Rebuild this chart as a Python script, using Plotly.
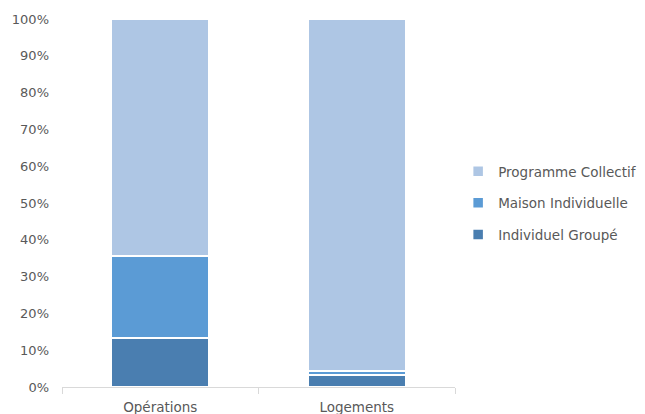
import plotly.graph_objects as go

categories = ["Opérations", "Logements"]
individuel_groupe = [13.3, 3.3]
maison_individuelle = [22.3, 1.0]
programme_collectif = [64.4, 95.7]

series = [
    ("Individuel Groupé", individuel_groupe, "#4A7EB0", 3),
    ("Maison Individuelle", maison_individuelle, "#5B9BD5", 2),
    ("Programme Collectif", programme_collectif, "#AEC6E4", 1),
]

fig = go.Figure()
for name, vals, color, rank in series:
    fig.add_trace(go.Bar(
        x=categories, y=vals, name=name, legendgroup=name, legendrank=rank,
        marker=dict(color=color, line=dict(color="white", width=2.5)),
    ))

font = dict(family="'DejaVu Sans', sans-serif", size=13, color="#595959")
font_l = dict(family="'DejaVu Sans', sans-serif", size=13.5, color="#595959")
fig.update_layout(
    barmode="stack",
    bargap=0.5,
    width=645, height=414,
    margin=dict(l=54, r=198, t=11, b=35, autoexpand=False),
    paper_bgcolor="white", plot_bgcolor="white",
    font=font,
    legend=dict(traceorder="grouped", x=1.008, xanchor="left", y=0.5, yanchor="middle",
                font=font_l, tracegroupgap=11, itemwidth=30),
    showlegend=True,
)
fig.update_yaxes(range=[0, 100], dtick=10, ticksuffix="%", showgrid=False,
                 showline=False, zeroline=False, ticks="", tickfont=font, automargin=False,
                 ticklabelstandoff=12)
fig.update_xaxes(showline=True, linecolor="#D9D9D9", linewidth=1, ticks="outside",
                 tickson="boundaries", ticklen=6, tickcolor="#D9D9D9", showgrid=False,
                 tickfont=font_l, automargin=False, ticklabelstandoff=8)
fig.write_html("out.html")
